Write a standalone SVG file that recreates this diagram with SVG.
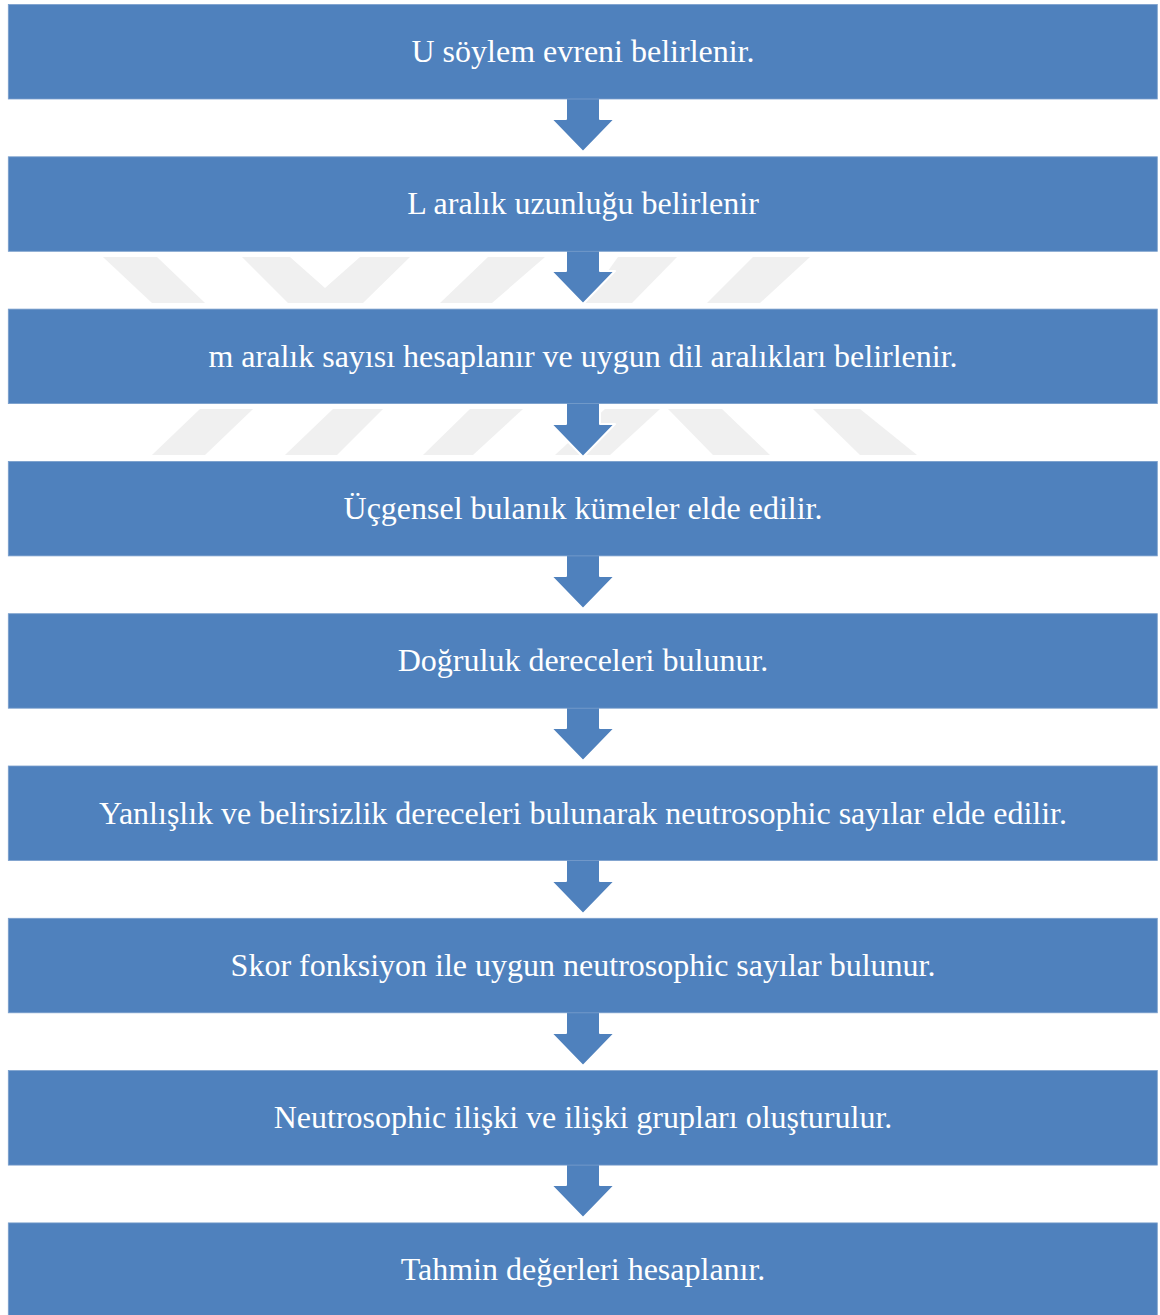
<svg xmlns="http://www.w3.org/2000/svg" width="1160" height="1315" viewBox="0 0 1160 1315">
<style>
.box{fill:#4F81BD;stroke:#7a9fcc;stroke-width:0.8}
.lbl{font-family:"Liberation Serif","Times New Roman",serif;font-size:32px;fill:#ffffff;text-anchor:middle}
.arr{fill:#4F81BD;stroke:#ffffff;stroke-width:2;stroke-linejoin:round}
.wm{fill:#f0f0f0}
</style>
<rect x="0" y="0" width="1160" height="1315" fill="#ffffff"/>
<g id="watermark">
<polygon class="wm" points="103,257 157,257 205,303 152,303"/>
<polygon class="wm" points="242,257 290,257 325,288 360,257 410,257 363,303 288,303"/>
<polygon class="wm" points="488,257 545,257 492,303 440,303"/>
<polygon class="wm" points="618,257 677,257 632,303 585,303"/>
<polygon class="wm" points="753,257 810,257 760,303 707,303"/>
<polygon class="wm" points="200,409 253,409 205,455 152,455"/>
<polygon class="wm" points="333,409 383,409 337,455 285,455"/>
<polygon class="wm" points="470,409 523,409 473,455 423,455"/>
<polygon class="wm" points="605,409 660,409 610,455 555,455"/>
<polygon class="wm" points="668,409 722,409 770,455 713,455"/>
<polygon class="wm" points="813,409 860,409 917,455 860,455"/>
</g>
<g id="connectors">
<polygon class="arr" points="566,95 600,95 600,119 615,119 583,152 551,119 566,119"/>
<polygon class="arr" points="566,247 600,247 600,271 615,271 583,304 551,271 566,271"/>
<polygon class="arr" points="566,400 600,400 600,424 615,424 583,457 551,424 566,424"/>
<polygon class="arr" points="566,552 600,552 600,576 615,576 583,609 551,576 566,576"/>
<polygon class="arr" points="566,704 600,704 600,728 615,728 583,761 551,728 566,728"/>
<polygon class="arr" points="566,857 600,857 600,881 615,881 583,914 551,881 566,881"/>
<polygon class="arr" points="566,1009 600,1009 600,1033 615,1033 583,1066 551,1033 566,1033"/>
<polygon class="arr" points="566,1161 600,1161 600,1185 615,1185 583,1218 551,1185 566,1185"/>
</g>
<g id="n1"><rect class="box" x="8.3" y="4.5" width="1149" height="94.5"/><text class="lbl" x="583" y="62">U söylem evreni belirlenir.</text></g>
<g id="n2"><rect class="box" x="8.3" y="156.8" width="1149" height="94.5"/><text class="lbl" x="583" y="214.3">L aralık uzunluğu belirlenir</text></g>
<g id="n3"><rect class="box" x="8.3" y="309.1" width="1149" height="94.5"/><text class="lbl" x="583" y="366.6">m aralık sayısı hesaplanır ve uygun dil aralıkları belirlenir.</text></g>
<g id="n4"><rect class="box" x="8.3" y="461.4" width="1149" height="94.5"/><text class="lbl" x="583" y="518.9">Üçgensel bulanık kümeler elde edilir.</text></g>
<g id="n5"><rect class="box" x="8.3" y="613.7" width="1149" height="94.5"/><text class="lbl" x="583" y="671.2">Doğruluk dereceleri bulunur.</text></g>
<g id="n6"><rect class="box" x="8.3" y="766" width="1149" height="94.5"/><text class="lbl" x="583" y="823.5">Yanlışlık ve belirsizlik dereceleri bulunarak neutrosophic sayılar elde edilir.</text></g>
<g id="n7"><rect class="box" x="8.3" y="918.3" width="1149" height="94.5"/><text class="lbl" x="583" y="975.8">Skor fonksiyon ile uygun neutrosophic sayılar bulunur.</text></g>
<g id="n8"><rect class="box" x="8.3" y="1070.6" width="1149" height="94.5"/><text class="lbl" x="583" y="1128.1">Neutrosophic ilişki ve ilişki grupları oluşturulur.</text></g>
<g id="n9"><rect class="box" x="8.3" y="1222.9" width="1149" height="94.5"/><text class="lbl" x="583" y="1280.4">Tahmin değerleri hesaplanır.</text></g>
</svg>
